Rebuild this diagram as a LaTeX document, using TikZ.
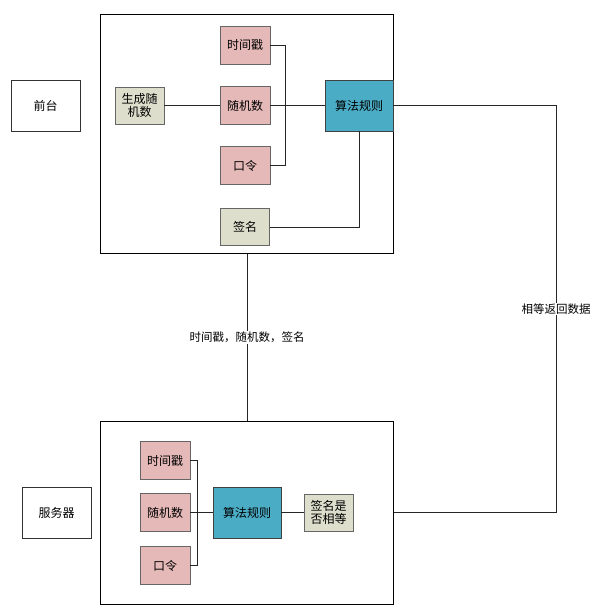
\documentclass[tikz,border=0pt]{standalone}
\usepackage{fontspec}
\setmainfont{Noto Sans CJK SC}
\definecolor{keypink}{RGB}{229,185,184}
\definecolor{notegray}{RGB}{221,223,204}
\definecolor{ruleblue}{RGB}{75,172,198}
\tikzset{
  area/.style={draw=black,line width=0.8pt,fill=white,inner sep=0pt},
  sidebox/.style={draw=black!80,line width=0.7pt,minimum width=69pt,minimum height=51pt,font=\fontsize{12}{14}\selectfont},
  keybox/.style={draw=black!60,line width=0.8pt,fill=keypink,minimum width=50pt,minimum height=38pt,inner sep=1pt,font=\fontsize{12}{14}\selectfont},
  notebox/.style={draw=black!60,line width=0.8pt,fill=notegray,minimum width=49pt,minimum height=37pt,inner sep=1pt,align=center,font=\fontsize{12}{13}\selectfont},
  rulebox/.style={draw=black!75,line width=0.8pt,fill=ruleblue,minimum width=68pt,inner sep=1pt,font=\fontsize{12}{14}\selectfont},
  link/.style={draw=black!85,line width=0.8pt},
  lbl/.style={fill=white,inner sep=1pt,font=\fontsize{11.5}{13}\selectfont}
}
\begin{document}
\begin{tikzpicture}[x=1pt,y=-1pt]
\useasboundingbox (0,0) rectangle (595,610);
%FRONT
\node[sidebox] (front) at (45.5,105.5) {前台};
\node[area,minimum width=293pt,minimum height=239pt] (frontarea) at (247,134) {};
\node[keybox] (time1) at (245,45) {时间戳};
\node[keybox] (rand1) at (245,105.5) {随机数};
\node[keybox] (pw1) at (245,165.5) {口令};
\node[notebox] (sign) at (245,227) {签名};
\node[notebox] (gen) at (139.5,105.5) {生成随\\机数};
\node[rulebox,minimum height=51pt] (rule1) at (359,105.5) {算法规则};
\coordinate (bus1) at (285,0);
\draw[link] (time1.east) -| (bus1 |- pw1.east) -- (pw1.east);
\draw[link] (gen.east) -- (rand1.west);
\draw[link] (rand1.east) -- (rule1.west);
\draw[link] (sign.east) -| (rule1.south);

%SERVER
\node[sidebox] (server) at (56.5,512.5) {服务器};
\node[area,minimum width=293pt,minimum height=183pt] (backarea) at (247,512.5) {};
\node[keybox] (time2) at (165,460.5) {时间戳};
\node[keybox] (rand2) at (165,512.5) {随机数};
\node[keybox] (pw2) at (165,565.5) {口令};
\node[rulebox,minimum height=51pt] (rule2) at (247,512.5) {算法规则};
\node[notebox] (cmp) at (328.5,512.5) {签名是\\否相等};
\coordinate (bus2) at (197,0);
\draw[link] (time2.east) -| (bus2 |- pw2.east) -- (pw2.east);
\draw[link] (rand2.east) -- (rule2.west);
\draw[link] (rule2.east) -- (cmp.west);

%BETWEEN
\coordinate (ret) at (556,0);
\draw[link] (frontarea.south) -- node[lbl] {时间戳，随机数，签名} (backarea.north);
\draw[link] (rule1.east) -| (ret |- backarea.east) node[lbl,pos=0.75] {相等返回数据} -- (backarea.east);
\end{tikzpicture}
\end{document}
